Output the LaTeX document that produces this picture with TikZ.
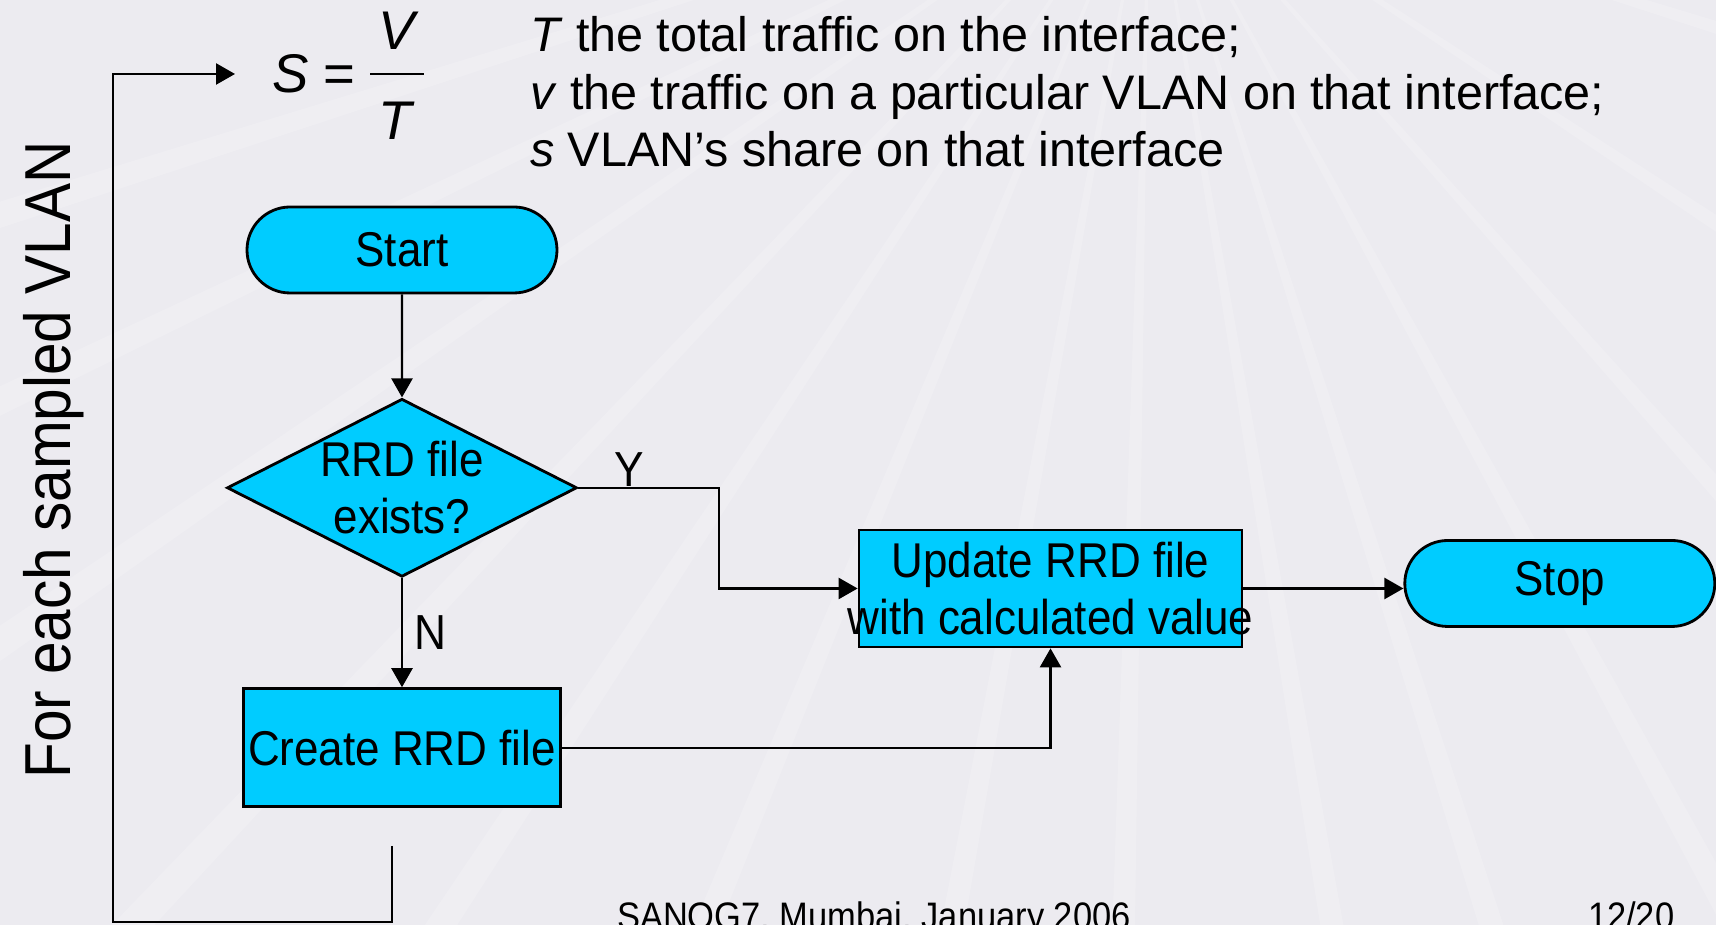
\documentclass[tikz,border=0pt]{standalone}
\usepackage{fontspec}
\setmainfont{Liberation Sans}
\newfontfamily\narrowfont{Liberation Sans}[FakeStretch=0.9]
\usepackage{tikz}
\usetikzlibrary{arrows.meta,shapes.geometric,shapes.misc,positioning}
\definecolor{skyfill}{RGB}{0,204,255}
\definecolor{slidebg}{RGB}{236,235,240}
\tikzset{arrows={-{Triangle[length=5.4pt,width=6pt]}}}
\tikzset{
  chart/.style={draw, fill=skyfill, line width=0.8pt, inner sep=0pt, align=center,
    font=\narrowfont\fontsize{13.9}{16.2}\selectfont},
  terminal/.style={chart, rounded rectangle, minimum width=3.1cm, minimum height=0.86cm},
  decision/.style={chart, diamond, aspect=2, minimum width=3.5cm, minimum height=1.78cm},
  process/.style={chart, rectangle, minimum height=1.17cm},
  answer/.style={font=\narrowfont\fontsize{14}{16}\selectfont}
}
\newcommand\spill[1]{\makebox[0pt]{#1}}

\begin{document}
\begin{tikzpicture}[line width=0.6pt]

  \useasboundingbox (0,0) rectangle (17.16,-9.25);
  \fill[slidebg, -] (0,0) rectangle (17.16,-9.25);
  \foreach \a in {186,197,205,214,226,236,247,259,268,279,287,298,311,326,342}
    \fill[white, opacity=0.16, -] (11.5,1.5) -- +(\a:25) -- +(\a+1.2:25) -- cycle;

  % the formula and what it stands for
  \node[anchor=west, inner sep=0pt, font=\fontsize{15.5}{18}\selectfont] (share) at (2.71,-0.74) {\textit{S} =};
  \node[anchor=base, inner sep=0pt, font=\fontsize{15.5}{18}\selectfont] (num) at (3.99,-0.50) {\textit{V}};
  \node[anchor=base, inner sep=0pt, font=\fontsize{15.5}{18}\selectfont] (den) at (3.97,-1.40) {\textit{T}};
  \draw[-] (3.70,-0.74) -- (4.24,-0.74);
  \node[anchor=base west, align=left, inner sep=0pt, font=\fontsize{13.8}{16.4}\selectfont] (legend) at (5.29,-1.67)
    {\textit{T} the total traffic on the interface;\\
     \textit{v} the traffic on a particular VLAN on that interface;\\
     \textit{s} VLAN’s share on that interface};

  \node[rotate=90, anchor=base, font=\narrowfont\fontsize{18.5}{22}\selectfont] (each) at (0.71,-4.60) {For each sampled VLAN};

  % the flow
  \node[terminal] (start) at (4.02,-2.50) {Start};
  \node[decision] (exists) [below = 1.03cm of start] {RRD file\\exists?};
  \node[process, minimum width=3.17cm, minimum height=1.18cm] (create) [below = 1.09cm of exists] {Create RRD file};
  \node[process, minimum width=3.83cm] (update) at (10.505,-5.885) {\spill{Update RRD file}\\\spill{with calculated value}};
  \node[terminal] (stop) [right = 1.6cm of update, yshift=0.05cm] {Stop};

  \path (start) edge (exists)
        (exists) edge node[right, answer] {N} (create)
        (update) edge (update -| stop.west);
  \draw (exists.east) -- node[above, pos=0.36, inner sep=0pt, answer] {Y} ++(1.41,0) |- (update.west);
  \draw (create.east) -| (update.south);

  \coordinate (tail) at (3.92,-8.46);
  \draw[shorten >=3.6mm] (tail) |- (1.13,-9.22) |- (share.west);

  % footer
  \node[anchor=base west, inner sep=0pt, font=\narrowfont\fontsize{10.9}{13}\selectfont] (venue) at (6.16,-9.30) {SANOG7, Mumbai, January 2006};
  \node[anchor=base west, inner sep=0pt, font=\narrowfont\fontsize{10.9}{13}\selectfont] (page) at (15.87,-9.30) {12/20};
\end{tikzpicture}
\end{document}
